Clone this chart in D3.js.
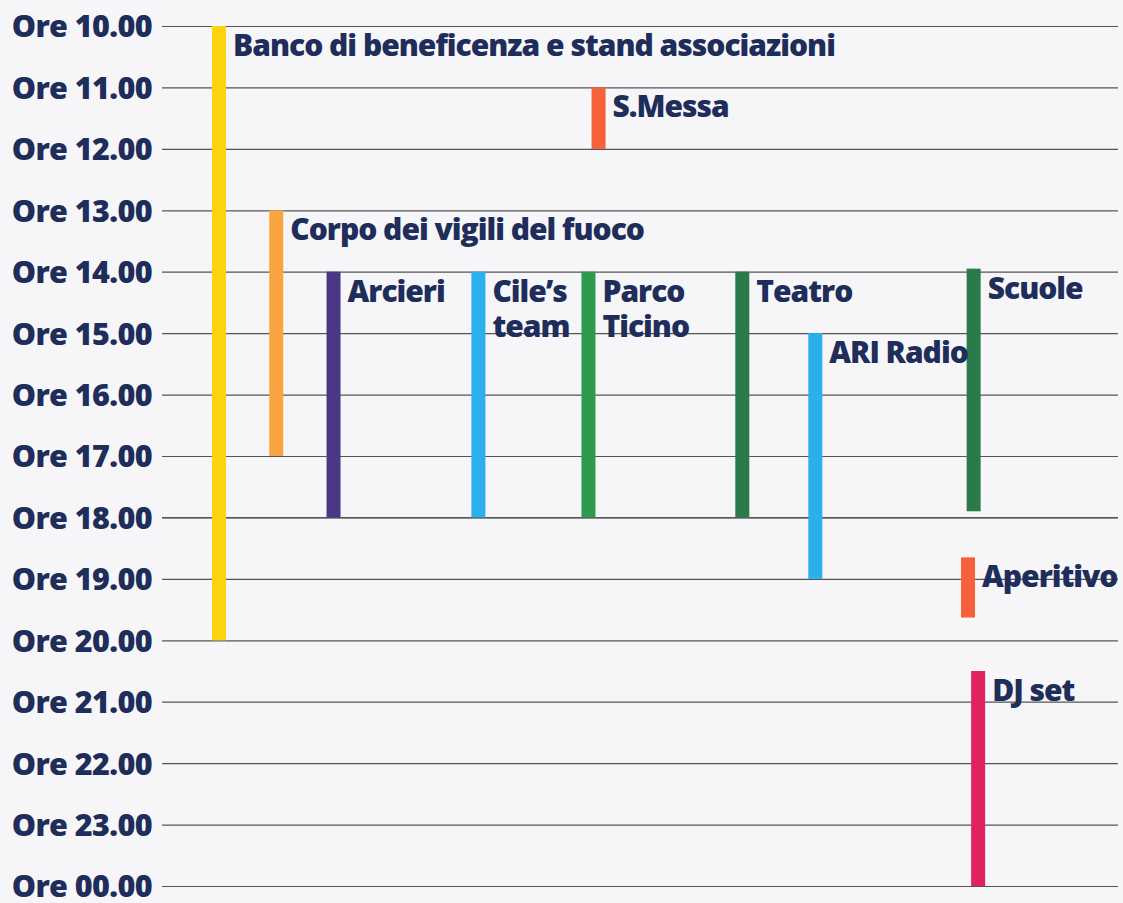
<!DOCTYPE html>
<html>
<head>
<meta charset="utf-8">
<script src="https://cdn.jsdelivr.net/npm/d3@7"></script>
<style>
  html, body { margin: 0; padding: 0; background: #f6f6f8; }
  svg text { font-family: "Open Sans", "Noto Sans", sans-serif; font-weight: 800; fill: #1e2d5a; }
</style>
</head>
<body>
<div class="container"></div>
<script>
// hour ticks (24 = midnight)
const hours = [10, 11, 12, 13, 14, 15, 16, 17, 18, 19, 20, 21, 22, 23, 24];
const hourLabels = ['Ore 10.00', 'Ore 11.00', 'Ore 12.00', 'Ore 13.00', 'Ore 14.00', 'Ore 15.00', 'Ore 16.00',
  'Ore 17.00', 'Ore 18.00', 'Ore 19.00', 'Ore 20.00', 'Ore 21.00', 'Ore 22.00', 'Ore 23.00', 'Ore 00.00'];

// events
const eventNames = [
  ['Banco di beneficenza e stand associazioni'],
  ['S.Messa'],
  ['Corpo dei vigili del fuoco'],
  ['Arcieri'],
  ['Cile\u2019s', 'team'],
  ['Parco', 'Ticino'],
  ['Teatro'],
  ['ARI Radio'],
  ['Scuole'],
  ['Aperitivo'],
  ['DJ set']
];
const eventStart = [10, 11, 13, 14, 14, 14, 14, 15, 13.95, 18.65, 20.5];
const eventEnd = [20, 12, 17, 18, 18, 18, 18, 19, 17.9, 19.63, 24];
// horizontal lane of each event (share of page width, %)
const eventLane = [19.5, 53.3, 24.6, 29.7, 42.6, 52.4, 66.1, 72.6, 86.7, 86.2, 87.1];
const eventColors = ['#fdd20e', '#f4613a', '#f9a43f', '#4a3886', '#2ab0ec', '#2f9a4e', '#2b7a4a',
  '#2ab0ec', '#2b7a4a', '#f4613a', '#e0235f'];

const width = 1123, height = 903;

const y = d3.scaleLinear().domain([10, 24]).range([26, 886]);
const x = d3.scaleLinear().domain([0, 100]).range([0, width]);
const barW = 14;

const svg = d3.select('.container')
  .append('svg')
  .attr('width', width)
  .attr('height', height);

// grid lines + hour labels
const yAxis = d3.axisLeft(y)
  .tickValues(hours)
  .tickSize(-(1118 - 162))
  .tickPadding(10)
  .tickFormat((d, i) => hourLabels[i]);

const gAxis = svg.append('g')
  .attr('transform', 'translate(162,0)')
  .call(yAxis);
gAxis.select('.domain').remove();
gAxis.selectAll('.tick line')
  .attr('stroke', d => d === 18 ? '#222' : '#555')
  .attr('stroke-width', 1.2);
gAxis.selectAll('.tick text')
  .attr('x', -10)
  .attr('dy', '0.36em')
  .style('font-size', '30.5px')
  .style('letter-spacing', '-0.6px')
  .attr('fill', '#1e2d5a')
  .attr('text-anchor', 'end');

const events = eventNames.map((n, i) => ({
  name: n, start: eventStart[i], end: eventEnd[i], lane: eventLane[i], color: eventColors[i]
}));

// bars
svg.selectAll('rect.bar')
  .data(events)
  .enter().append('rect')
    .attr('class', 'bar')
    .attr('x', d => x(d.lane) - barW / 2)
    .attr('y', d => y(d.start))
    .attr('width', barW)
    .attr('height', d => y(d.end) - y(d.start))
    .attr('fill', d => d.color);

// labels
const labels = svg.selectAll('text.lbl')
  .data(events)
  .enter().append('text')
    .attr('class', 'lbl')
    .attr('x', d => x(d.lane) + barW / 2 + 7)
    .attr('y', d => y(d.start) + 30)
    .style('font-size', '30px')
    .style('letter-spacing', '-1px');

labels.selectAll('tspan')
  .data(d => d.name.map(t => ({t, x: x(d.lane) + barW / 2 + 7})))
  .enter().append('tspan')
    .attr('x', d => d.x)
    .attr('dy', (d, i) => i ? 35 : 0)
    .text(d => d.t);
</script>
</body>
</html>
